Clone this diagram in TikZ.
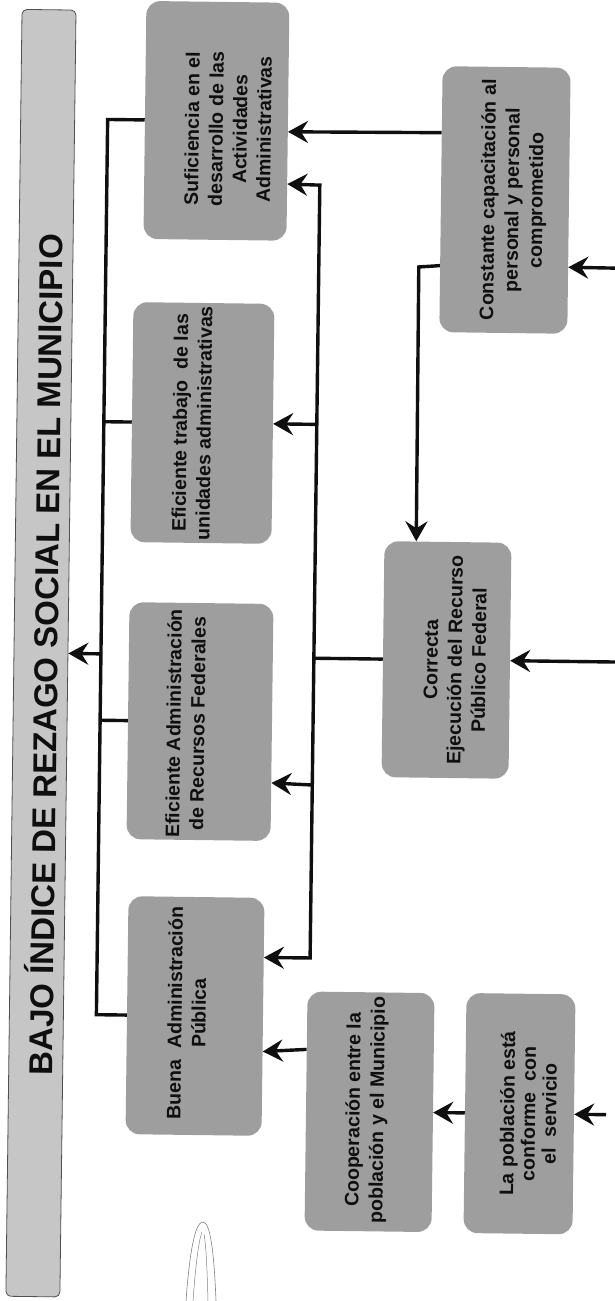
\documentclass[tikz,border=0pt]{standalone}
\usepackage{fontspec}
\setsansfont{Liberation Sans}
\usetikzlibrary{arrows.meta}
\definecolor{boxgray}{RGB}{158,158,158}
\definecolor{barfill}{RGB}{198,198,198}
\definecolor{bardraw}{RGB}{80,80,80}
\definecolor{inkcol}{RGB}{15,15,15}
\tikzset{
  box/.style={rectangle, rounded corners=14pt, fill=boxgray, draw=none, inner sep=0pt},
  txt/.style={rotate=90, align=center, inner sep=0pt, text=inkcol,
    font=\fontsize{19.5}{24}\selectfont\sffamily\bfseries},
  conn/.style={draw=inkcol, line width=3.4pt, line join=miter},
  tip/.style={-{Stealth[length=20pt, width=22pt, inset=7pt]}},
  btip/.style={{Stealth[length=20pt, width=22pt, inset=7pt]}-{Stealth[length=20pt, width=22pt, inset=7pt]}}
}
\begin{document}
\begin{tikzpicture}[x=1pt, y=-1pt]
\useasboundingbox (0,0) rectangle (615,1301);
\begin{scope}[rotate around={-0.72:(307,650)}, transform shape]
% title bar
\node[rectangle, rounded corners=5pt, fill=barfill, draw=bardraw, line width=0.8pt,
      minimum width=54pt, minimum height=1287pt, inner sep=0pt] (title) at (41,656.5) {};
\node[rotate=90, inner sep=0pt, text=inkcol, font=\fontsize{33}{36}\selectfont\sffamily\bfseries]
  (title-t) at (43.5,658) {BAJO ÍNDICE DE REZAGO SOCIAL EN EL MUNICIPIO};
% boxes
\node[box, minimum width=143pt, minimum height=238pt] (suf) at (209.8,122) {};
\node[box, minimum width=128pt, minimum height=266pt] (const) at (499.3,197.5) {};
\node[box, minimum width=141pt, minimum height=240pt] (trab) at (199.6,424.3) {};
\node[box, minimum width=144pt, minimum height=237pt] (adm) at (200.9,722.9) {};
\node[box, minimum width=127pt, minimum height=236pt] (corr) at (446.6,658.2) {};
\node[box, minimum width=136pt, minimum height=238pt] (buena) at (199.6,1017.4) {};
\node[box, minimum width=127pt, minimum height=239pt] (coop) at (375.3,1111) {};
\node[box, minimum width=109pt, minimum height=240pt] (lap) at (525.3,1111) {};
% texts
\node[txt] (suf-t) at (221.4,130) {Suficiencia en el\\desarrollo de las\\Actividades\\Administrativas};
\node[txt] (const-t) at (507.8,197.4) {Constante capacitación al\\personal y personal\\comprometido};
\node[txt] (trab-t) at (189.1,424.4) {Eficiente trabajo~ de las\\unidades administrativas};
\node[txt] (adm-t) at (186.4,725) {Eficiente Administración\\de Recursos Federales};
\node[txt] (corr-t) at (455.1,658.1) {Correcta\\Ejecución del Recurso\\Público Federal};
\node[txt] (buena-t) at (191.2,1014.5) {Buena~ Administración\\Pública};
\node[txt] (coop-t) at (372.3,1109.2) {Cooperación entre la\\población y el Municipio};
\node[txt, font=\fontsize{19.5}{21}\selectfont\sffamily\bfseries] (lap-t) at (534,1111)
  {La población está\\conforme~ con\\el~ servicio};
% bus coordinates
\coordinate (Ls) at (101,122);
\coordinate (Lt) at (101,424.3);
\coordinate (La) at (101,722.9);
\coordinate (Lb) at (101,1017.4);
\coordinate (Lti) at (101,656.5);
\coordinate (R1) at (314,185);
\coordinate (Rt) at (314,424.3);
\coordinate (Rc) at (314,658.2);
\coordinate (Ra) at (314,785);
\coordinate (R5) at (314,958);
\coordinate (C1) at (414,265.6);
\coordinate (In1) at (625,264.4);
\coordinate (In2) at (625,658.2);
\coordinate (In3) at (612,1111);
% left bus
\draw[conn] (suf.west) -- (Ls) -- (Lb) -- (buena.west);
\draw[conn] (trab.west) -- (Lt);
\draw[conn] (adm.west) -- (La);
\draw[conn, tip] (Lti) -- (title.east);
% right bus
\draw[conn, btip] (suf.-41.38) -- (R1) -- (R5) -- (buena.41.14);
\draw[conn, tip] (Rt) -- (trab.east);
\draw[conn, tip] (Ra) -- (adm.-40.78);
\draw[conn] (corr.west) -- (Rc);
% constante
\draw[conn, tip] (const.134.46) -- (suf.-8.2);
\draw[conn, tip] (const.226.78) -- (C1) -- (corr.105.44);
\draw[conn, tip] (In1) -- (const.-46.27);
\draw[conn, tip] (In2) -- (corr.east);
% bottom chain
\draw[conn, tip] (coop.136.91) -- (buena.-27.17);
\draw[conn, tip] (lap.west) -- (coop.east);
\draw[conn, tip] (In3) -- (lap.east);
\end{scope}
% pencil sketch at the bottom
\draw[gray, line width=0.6pt] (186,1301) .. controls (190,1245) and (196,1222) .. (203,1222)
  .. controls (210,1222) and (214,1250) .. (216,1301);
\draw[gray, line width=0.5pt] (193,1301) .. controls (196,1260) and (199,1240) .. (202,1232);
\draw[gray, line width=0.5pt] (208,1301) .. controls (207,1265) and (206,1245) .. (204,1234);
\end{tikzpicture}
\end{document}
